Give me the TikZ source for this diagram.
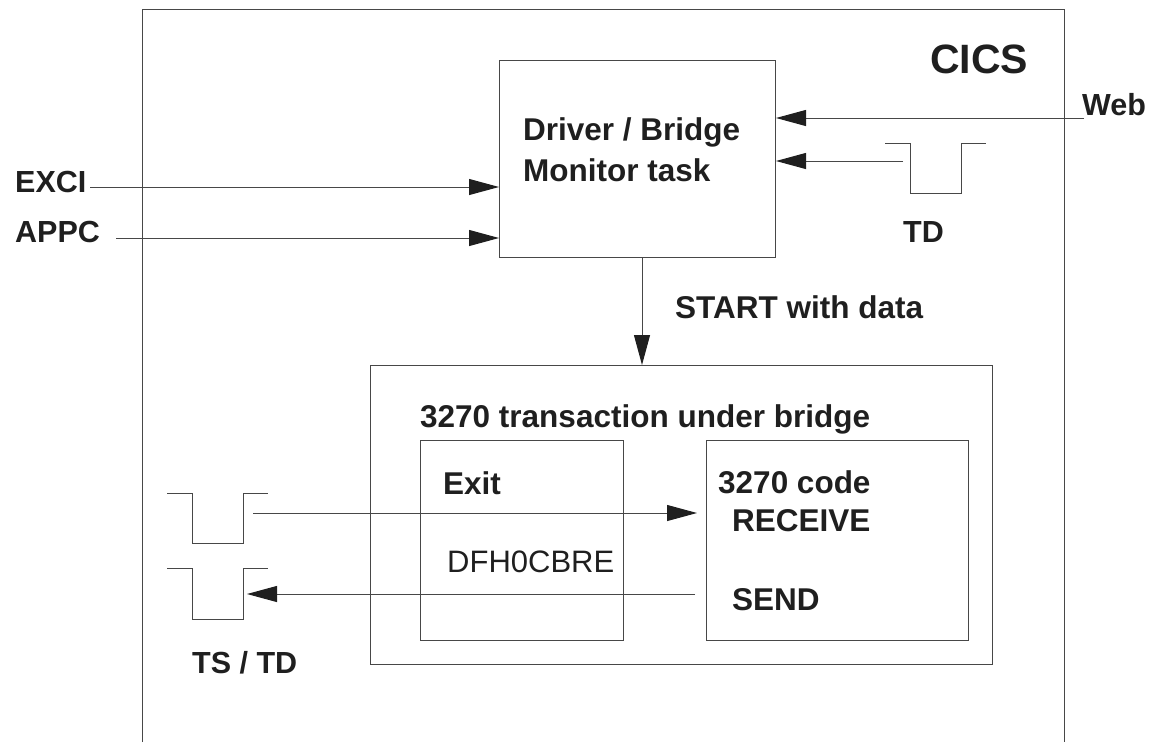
\documentclass[tikz,border=0pt]{standalone}
\usepackage{fontspec}
\setmainfont{Liberation Sans}
\usetikzlibrary{arrows.meta}
\begin{document}
\begin{tikzpicture}[x=1pt,y=-1pt,
  ln/.style={draw=black!72,line width=1pt},
  box/.style={ln,rectangle,inner sep=0pt,anchor=north west},
  arr/.style={ln,-{Triangle[length=30pt,width=16pt,color=black!88]}},
  lbl/.style={anchor=base west,inner sep=0pt,text=black!88,font=\fontsize{31.5}{36}\selectfont\bfseries},
  slbl/.style={lbl,font=\fontsize{30.5}{36}\selectfont\bfseries},
  rlbl/.style={anchor=base west,inner sep=0pt,text=black!88,font=\fontsize{31}{36}\selectfont},
  queue/.style={ln}]
\useasboundingbox (0,0) rectangle (1151,742);
% CICS frame (open at bottom)
\draw[ln] (142,742) -- (142,9) -- (1064,9) -- (1064,742);
\node[lbl,font=\fontsize{41}{48}\selectfont\bfseries] (cics) at (930,73) {CICS};
% Driver / Bridge box
\node[box,minimum width=276pt,minimum height=197pt] (drv) at (499,60) {};
\node[lbl] (drvA) at (523,140) {Driver / Bridge};
\node[lbl] (drvB) at (523,181) {Monitor task};
% Web
\node[slbl] (web) at (1082,115) {Web};
\coordinate (webS) at (1084,118);
\draw[arr] (webS) -- (drv.east |- webS);
% TD queue (top right)
\draw[queue] (885,143) -- (910,143) -- (910,193) -- (961,193) -- (961,143) -- (986,143);
\coordinate (tdS) at (903,161);
\draw[arr] (tdS) -- (drv.east |- tdS);
\node[slbl] (td) at (903,242) {TD};
% EXCI / APPC
\node[slbl] (exci) at (15,192) {EXCI};
\node[slbl] (appc) at (15,242) {APPC};
\coordinate (exciS) at (90,187);
\coordinate (appcS) at (116,238);
\draw[arr] (exciS) -- (drv.west |- exciS);
\draw[arr] (appcS) -- (drv.west |- appcS);
% Transaction box
\node[box,minimum width=622pt,minimum height=299pt] (trn) at (370,365) {};
\coordinate (startS) at (642,257);
\draw[arr] (startS) -- (trn.north -| startS);
\node[lbl] (start) at (675,318) {START with data};
\node[lbl] (trnT) at (420,427) {3270 transaction under bridge};
% Exit box
\node[box,minimum width=203pt,minimum height=200pt] (exit) at (420,440) {};
\node[lbl] (exitT) at (443,494) {Exit};
\node[rlbl] (dfh) at (447,572) {DFH0CBRE};
% 3270 code box
\node[box,minimum width=262pt,minimum height=200pt] (code) at (706,440) {};
\node[lbl] (codeT) at (718,493) {3270 code};
\node[lbl] (recv) at (732,531) {RECEIVE};
\node[lbl] (send) at (732,610) {SEND};
% TS / TD queues
\draw[queue] (167,493) -- (192,493) -- (192,543) -- (243,543) -- (243,493) -- (268,493);
\draw[queue] (167,568) -- (192,568) -- (192,619) -- (243,619) -- (243,568) -- (268,568);
\coordinate (q1S) at (253,513);
\coordinate (q1E) at (697,513);
\draw[arr] (q1S) -- (q1E);
\coordinate (q2S) at (695,594);
\coordinate (q2E) at (247,594);
\draw[arr] (q2S) -- (q2E);
\node[slbl] (tstd) at (192,673) {TS / TD};
\end{tikzpicture}
\end{document}
